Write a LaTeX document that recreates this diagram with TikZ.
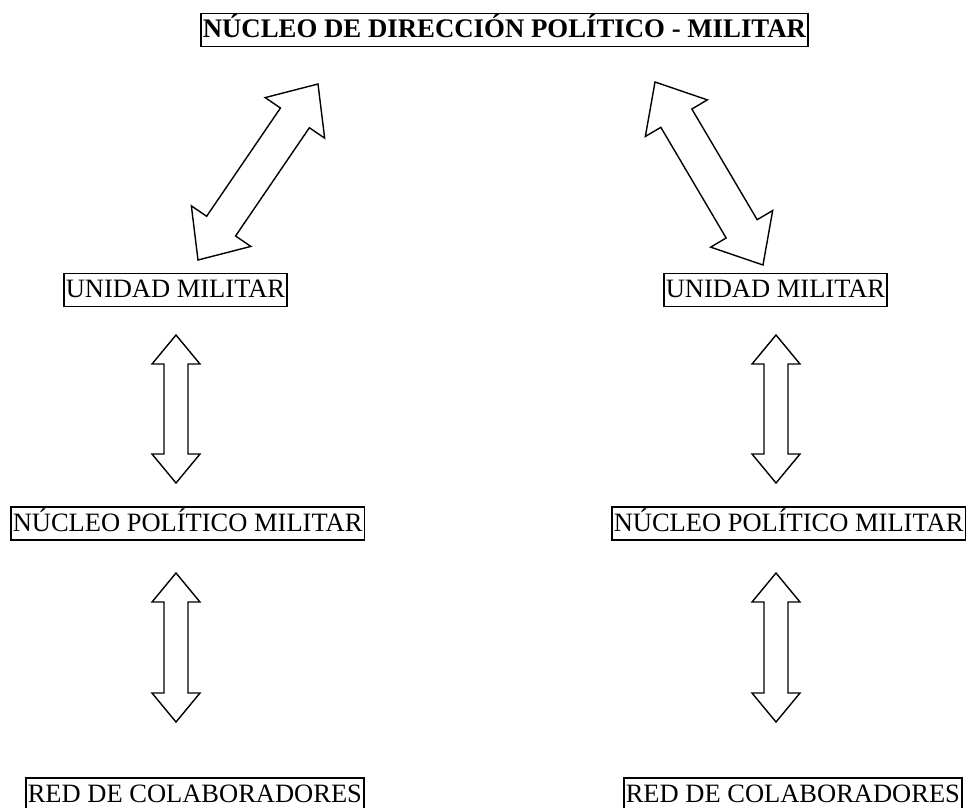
\documentclass[tikz,border=0pt]{standalone}
\usepackage{fontspec}
\setmainfont{Liberation Serif}
\usetikzlibrary{calc}

\tikzset{
  label box/.style={draw, line width=1.5pt, anchor=west, inner xsep=2pt, inner ysep=0pt,
    text height=24pt, text depth=9pt, font=\fontsize{26.5}{30}\selectfont},
  head box/.style={label box, font=\fontsize{26.8}{30}\selectfont\bfseries},
  block arrow/.style={draw, line width=1.4pt, line join=miter, fill=white}
}

% hollow double-headed arrow between two points:
% #1,#2 ends, #3 head length, #4 head half-width, #5 shaft half-width
\newcommand\dblblockarrow[5]{%
  \draw[block arrow] (#1)
    -- ($(#1)!#3!(#2)!#4!90:(#2)$)
    -- ($(#1)!#3!(#2)!#5!90:(#2)$)
    -- ($(#2)!#3!(#1)!#5!-90:(#1)$)
    -- ($(#2)!#3!(#1)!#4!-90:(#1)$)
    -- (#2)
    -- ($(#2)!#3!(#1)!#4!90:(#1)$)
    -- ($(#2)!#3!(#1)!#5!90:(#1)$)
    -- ($(#1)!#3!(#2)!#5!-90:(#2)$)
    -- ($(#1)!#3!(#2)!#4!-90:(#2)$)
    -- cycle;}

\begin{document}
\begin{tikzpicture}[x=1pt, y=-1pt]
  \useasboundingbox (0,0) rectangle (966,807);
  \clip (0,0) rectangle (966,807);

  % labels
  \node[head box]  (top) at (200,30)    {NÚCLEO DE DIRECCIÓN POLÍTICO - MILITAR};
  \node[label box] (uL)  at (63,290)    {UNIDAD MILITAR};
  \node[label box] (uR)  at (663,290)   {UNIDAD MILITAR};
  \node[label box] (nL)  at (10,523.5)  {NÚCLEO POLÍTICO MILITAR};
  \node[label box] (nR)  at (611,523.5) {NÚCLEO POLÍTICO MILITAR};
  \node[label box] (rL)  at (25,794.5)  {RED DE COLABORADORES};
  \node[label box] (rR)  at (623,794.5) {RED DE COLABORADORES};

  % arrow end points
  \coordinate (dLa) at (318,84);  \coordinate (dLb) at (198,260);
  \coordinate (dRa) at (655,82);  \coordinate (dRb) at (763,265);
  \coordinate (v1La) at (176,335); \coordinate (v1Lb) at (176,483);
  \coordinate (v1Ra) at (776,335); \coordinate (v1Rb) at (776,483);
  \coordinate (v2La) at (176,573); \coordinate (v2Lb) at (176,722);
  \coordinate (v2Ra) at (776,573); \coordinate (v2Rb) at (776,722);

  % diagonal arrows
  \dblblockarrow{dLa}{dLb}{41pt}{36pt}{17.5pt}
  \dblblockarrow{dRa}{dRb}{42pt}{36pt}{18pt}

  % vertical arrows
  \dblblockarrow{v1La}{v1Lb}{29pt}{24pt}{12pt}
  \dblblockarrow{v1Ra}{v1Rb}{29pt}{24pt}{12pt}
  \dblblockarrow{v2La}{v2Lb}{29pt}{24pt}{12pt}
  \dblblockarrow{v2Ra}{v2Rb}{29pt}{24pt}{12pt}
\end{tikzpicture}
\end{document}
